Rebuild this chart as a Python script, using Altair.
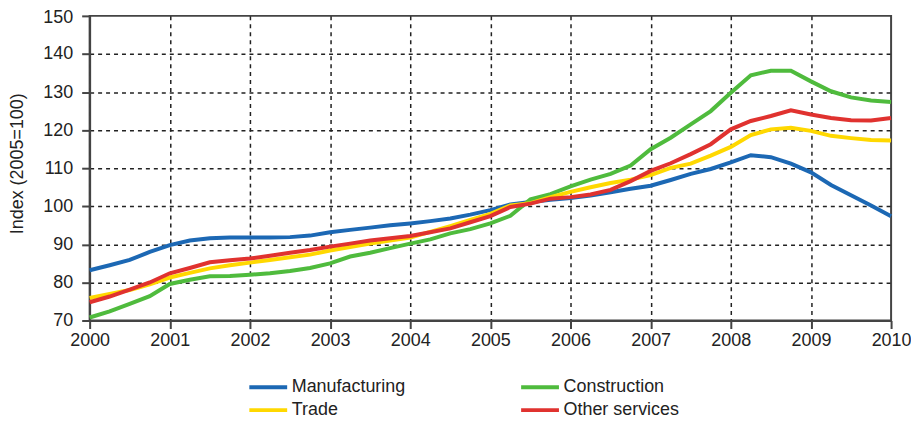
import altair as alt
import pandas as pd

quarters = [2000 + i / 4 for i in range(41)]

manufacturing = [83.2, 84.5, 85.9, 88.0, 89.8, 91.0, 91.6, 91.8, 91.8, 91.8, 91.9, 92.3,
                 93.2, 93.8, 94.4, 95.0, 95.5, 96.1, 96.8, 97.8, 99.0, 100.5, 101.1, 101.7,
                 102.2, 102.8, 103.7, 104.6, 105.4, 106.9, 108.5, 109.8, 111.5, 113.4, 112.9,
                 111.2, 108.9, 105.6, 102.9, 100.2, 97.4]
construction = [70.8, 72.4, 74.4, 76.4, 79.6, 80.7, 81.6, 81.7, 82.0, 82.4, 83.0, 83.8,
                85.0, 86.8, 87.8, 89.0, 90.2, 91.3, 92.9, 94.0, 95.5, 97.5, 101.8, 103.2,
                105.2, 107.0, 108.5, 110.7, 115.0, 118.0, 121.5, 125.0, 129.8, 134.4, 135.6,
                135.6, 132.8, 130.2, 128.6, 127.8, 127.4]
trade = [75.9, 77.0, 78.0, 79.5, 81.3, 82.5, 83.7, 84.5, 85.2, 85.9, 86.6, 87.3,
         88.4, 89.3, 90.2, 91.0, 91.8, 93.3, 94.8, 96.4, 98.0, 100.2, 100.8, 102.4,
         103.8, 105.0, 106.1, 107.0, 108.2, 110.1, 111.2, 113.3, 115.6, 118.7, 120.2,
         120.6, 119.8, 118.5, 117.9, 117.4, 117.3]
other_services = [74.8, 76.3, 78.1, 80.0, 82.4, 83.8, 85.3, 85.8, 86.3, 87.0, 87.8, 88.5,
                  89.4, 90.2, 91.0, 91.6, 92.2, 93.2, 94.2, 95.8, 97.4, 99.8, 100.7, 102.0,
                  102.4, 103.1, 104.3, 106.6, 109.3, 111.3, 113.7, 116.3, 120.2, 122.4, 123.7,
                  125.2, 124.1, 123.2, 122.6, 122.5, 123.2]

series_names = ["Manufacturing", "Construction", "Trade", "Other services"]
colors = ["#1c68b4", "#4fbb3d", "#ffd800", "#e0322f"]
year_ticks = list(range(2000, 2011))
y_ticks = list(range(70, 151, 10))

rows = []
for name, vals in zip(series_names, [manufacturing, construction, trade, other_services]):
    for t, v in zip(quarters, vals):
        rows.append({"t": t, "value": v, "series": name})
df = pd.DataFrame(rows)

FONT = "Liberation Sans"
AXC = "#444"

chart = alt.Chart(df).mark_line(strokeWidth=4).encode(
    x=alt.X("t:Q",
            scale=alt.Scale(domain=[2000, 2010], nice=False, zero=False),
            axis=alt.Axis(values=year_ticks, format="d", title=None,
                          labelFontSize=18, labelFont=FONT, labelColor="#222",
                          labelPadding=3, tickSize=8, tickColor=AXC, tickWidth=2,
                          domainColor=AXC, domainWidth=2,
                          grid=True, gridDash=[4, 4], gridWidth=1.5,
                          gridColor=alt.condition("datum.value === 2010", alt.value("transparent"), alt.value("#222")),
                          labelFlush=False)),
    y=alt.Y("value:Q",
            scale=alt.Scale(domain=[70, 150], nice=False, zero=False),
            axis=alt.Axis(values=y_ticks, title="Index (2005=100)",
                          titleFontSize=18, titleFont=FONT, titleFontWeight="normal",
                          titleColor="#222", titleX=-72, titleY=148, titleAngle=270,
                          titleAlign="center", titleBaseline="middle",
                          labelFontSize=18, labelFont=FONT, labelColor="#222",
                          labelOffset=alt.condition("datum.value === 150", alt.value(2), alt.value(0)),
                          labelPadding=9, tickSize=8, tickColor=AXC, tickWidth=2,
                          domainColor=AXC, domainWidth=2,
                          grid=True, gridDash=[4, 4], gridWidth=1.5,
                          gridColor=alt.condition("datum.value === 150", alt.value("transparent"), alt.value("#222")))),
    color=alt.Color("series:N",
                    scale=alt.Scale(domain=series_names, range=colors),
                    legend=alt.Legend(orient="none", legendX=158, legendY=363, columns=2,
                                      direction="horizontal",
                                      title=None, symbolType="M-1,0L4,0", symbolSize=231,
                                      symbolStrokeWidth=4, labelFontSize=18, labelFont=FONT,
                                      labelColor="#222", labelOffset=25, columnPadding=107,
                                      rowPadding=4)),
).properties(
    width=805, height=306,
    autosize=alt.AutoSizeParams(type="none"),
    padding={"left": 82, "top": 7, "right": 20, "bottom": 97},
).configure_view(stroke=AXC, strokeWidth=2)

chart.save("out.html", embed_options={"renderer": "svg", "actions": False})
